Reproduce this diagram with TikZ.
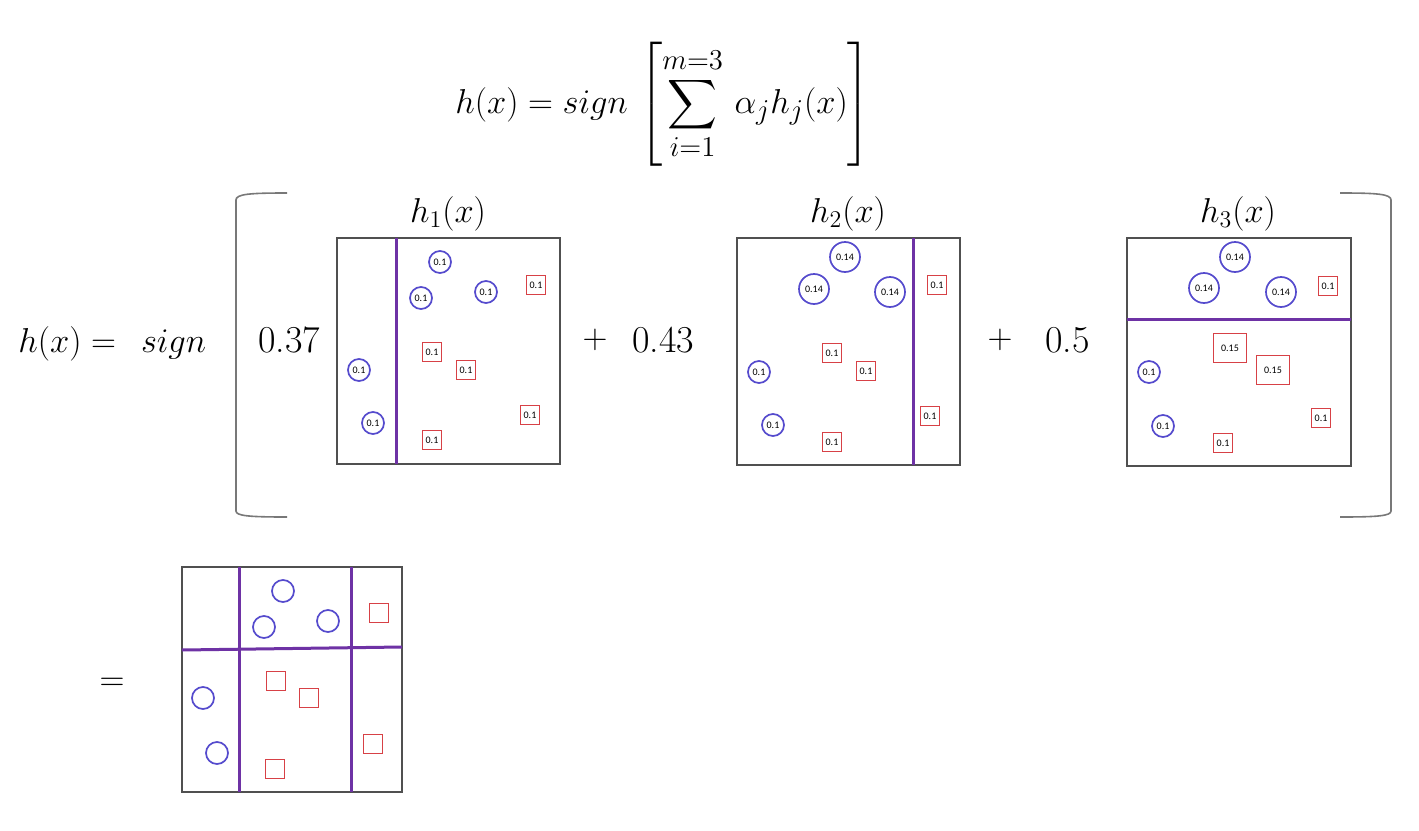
\documentclass[tikz,border=0pt]{standalone}
\usepackage{exscale}
\usepackage{amsmath}
\usepackage{fontspec}
\newfontfamily\labfont{Carlito}
\begin{document}
\begin{tikzpicture}[x=0.5pt,y=-0.5pt,
  bigtxt/.style={inner sep=0pt,font=\fontsize{19}{22}\selectfont},
  lbltxt/.style={inner sep=0pt,font=\fontsize{17}{20}\selectfont},
  pt/.style={inner sep=0pt,font=\labfont\fontsize{5}{6}\selectfont},
  cir/.style={pt,circle,draw=circblue,line width=0.85pt,minimum size=11pt},
  bigcir/.style={cir,minimum size=15pt},
  sqr/.style={pt,rectangle,draw=sqred,line width=0.95pt,minimum width=9.5pt,minimum height=9.5pt},
  bigsqr/.style={sqr,minimum width=16.5pt,minimum height=14.5pt},
  frame/.style={draw=framegray,line width=1pt},
  split/.style={draw=splitpurple,line width=1.5pt},
  brk/.style={draw=brkgray,line width=0.8pt}]
\definecolor{circblue}{RGB}{85,75,205}
\definecolor{sqred}{RGB}{215,65,70}
\definecolor{framegray}{RGB}{80,80,80}
\definecolor{splitpurple}{RGB}{110,50,165}
\definecolor{brkgray}{RGB}{120,120,120}
\useasboundingbox[fill=white] (0,0) rectangle (1419,830);

% top formula
\node[bigtxt,anchor=base west] (top) at (455,113)
  {$h(x) = sign\,\left[\displaystyle\sum_{i=1}^{m=3}\,\alpha_j h_j(x)\vphantom{\rule{0pt}{35pt}}\right]$};

% second row
\node[bigtxt,anchor=base west] (lhs) at (18,352) {$h(x) =\;\, sign$};
\node[bigtxt,anchor=base west] (a1) at (258,352) {0.37};
\node[bigtxt] (p1) at (595,340) {$+$};
\node[bigtxt,anchor=base west] (a2) at (632,352) {0.43};
\node[bigtxt] (p2) at (1000,340) {$+$};
\node[bigtxt,anchor=base west] (a3) at (1045,352) {0.5};

% big brackets
\draw[brk] (287,193) .. controls (250,193) and (236,194) .. (236,200) -- (236,511) .. controls (236,516) and (250,517) .. (287,517);
\draw[brk] (1340,193) .. controls (1377,193) and (1391,194) .. (1391,200) -- (1391,511) .. controls (1391,516) and (1377,517) .. (1340,517);

% labels
\node[lbltxt,anchor=base] (l1) at (448,222) {$h_1(x)$};
\node[lbltxt,anchor=base] (l2) at (848,222) {$h_2(x)$};
\node[lbltxt,anchor=base] (l3) at (1238,222) {$h_3(x)$};

% h1
\draw[frame] (337,238) rectangle (560,464);
\draw[split] (396,238) -- (396,464);
\node[cir] (a1c1) at (440,262) {0.1};
\node[cir] (a1c2) at (421,298) {0.1};
\node[cir] (a1c3) at (486,292) {0.1};
\node[cir] (a1c4) at (359,370) {0.1};
\node[cir] (a1c5) at (373,423) {0.1};
\node[sqr] (a1s1) at (536,285) {0.1};
\node[sqr] (a1s2) at (432,352) {0.1};
\node[sqr] (a1s3) at (466,370) {0.1};
\node[sqr] (a1s4) at (530,415) {0.1};
\node[sqr] (a1s5) at (432,440) {0.1};

% h2
\draw[frame] (737,238) rectangle (960,465);
\draw[split] (913,238) -- (913,465);
\node[bigcir] (a2c1) at (845,257) {0.14};
\node[bigcir] (a2c2) at (814,289) {0.14};
\node[bigcir] (a2c3) at (890,292) {0.14};
\node[cir] (a2c4) at (759,372) {0.1};
\node[cir] (a2c5) at (773,425) {0.1};
\node[sqr] (a2s1) at (937,285) {0.1};
\node[sqr] (a2s2) at (832,353) {0.1};
\node[sqr] (a2s3) at (866,371) {0.1};
\node[sqr] (a2s4) at (930,416) {0.1};
\node[sqr] (a2s5) at (832,442) {0.1};

% h3
\draw[frame] (1127,238) rectangle (1351,466);
\draw[split] (1127,319) -- (1351,319);
\node[bigcir] (a3c1) at (1235,257) {0.14};
\node[bigcir] (a3c2) at (1204,288) {0.14};
\node[bigcir] (a3c3) at (1281,292) {0.14};
\node[cir] (a3c4) at (1149,372) {0.1};
\node[cir] (a3c5) at (1163,426) {0.1};
\node[sqr] (a3s1) at (1328,286) {0.1};
\node[bigsqr] (a3s2) at (1230,348) {0.15};
\node[bigsqr] (a3s3) at (1273,370) {0.15};
\node[sqr] (a3s4) at (1321,418) {0.1};
\node[sqr] (a3s5) at (1223,443) {0.1};

% result
\node[bigtxt] (eq) at (112,684) {$=$};
\draw[frame] (182,567) rectangle (402,792);
\draw[split] (182,650) -- (402,647);
\draw[split] (239,567) -- (239,792);
\draw[split] (351,567) -- (351,792);
\node[cir] (rc1) at (283,591) {};
\node[cir] (rc2) at (264,627) {};
\node[cir] (rc3) at (328,621) {};
\node[cir] (rc4) at (203,698) {};
\node[cir] (rc5) at (217,753) {};
\node[sqr] (rs1) at (379,613) {};
\node[sqr] (rs2) at (276,681) {};
\node[sqr] (rs3) at (309,698) {};
\node[sqr] (rs4) at (373,744) {};
\node[sqr] (rs5) at (275,769) {};
\end{tikzpicture}
\end{document}
